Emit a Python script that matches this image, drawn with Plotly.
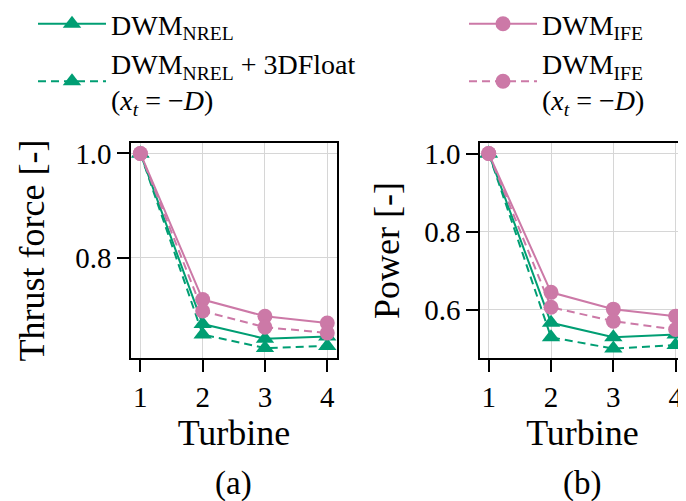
import plotly.graph_objects as go
from plotly.subplots import make_subplots

turbines = [1, 2, 3, 4]

thrust_nrel = [1.0, 0.673, 0.645, 0.649]
thrust_nrel_3dfloat = [1.0, 0.653, 0.627, 0.631]
thrust_ife = [1.0, 0.720, 0.688, 0.675]
thrust_ife_xt = [1.0, 0.698, 0.667, 0.656]

power_nrel = [1.0, 0.567, 0.530, 0.537]
power_nrel_3dfloat = [1.0, 0.530, 0.501, 0.510]
power_ife = [1.0, 0.645, 0.602, 0.584]
power_ife_xt = [1.0, 0.607, 0.571, 0.550]

GREEN = '#009E73'
PINK = '#CC79A7'
FONT = 'Liberation Serif'

names = {
	'nrel': 'DWM<sub>NREL</sub>',
	'nrel3d': 'DWM<sub>NREL</sub> + 3DFloat<br>(<i>x</i><sub><i>t</i></sub> = −<i>D</i>)',
	'ife': 'DWM<sub>IFE</sub>',
	'ifext': 'DWM<sub>IFE</sub><br>(<i>x</i><sub><i>t</i></sub> = −<i>D</i>)',
}

fig = make_subplots(rows=1, cols=2)

series = [
	# key, color, dash, symbol, which legend, thrust, power
	('nrel', GREEN, 'solid', 'triangle-up', 'legend', thrust_nrel, power_nrel),
	('nrel3d', GREEN, '8px,5px', 'triangle-up', 'legend', thrust_nrel_3dfloat, power_nrel_3dfloat),
	('ife', PINK, 'solid', 'circle', 'legend2', thrust_ife, power_ife),
	('ifext', PINK, '8px,5px', 'circle', 'legend2', thrust_ife_xt, power_ife_xt),
]

for key, color, dash, symbol, leg, thr, pwr in series:
	msize = 16 if symbol == 'triangle-up' else 15
	for col, vals in [(1, thr), (2, pwr)]:
		fig.add_trace(go.Scatter(
			x=turbines, y=vals, name=names[key],
			mode='lines+markers',
			line=dict(color=color, width=2, dash=dash),
			marker=dict(symbol=symbol, size=msize, color=color),
			showlegend=(col == 1), legend=leg,
		), row=1, col=col)

axis_common = dict(
	showline=True, linecolor='black', linewidth=1.5, mirror=True,
	ticks='outside', ticklen=12, tickwidth=1.5, tickcolor='black',
	showgrid=True, gridcolor='#d6d6d6', gridwidth=1,
	zeroline=False, tickfont=dict(size=29, color='black', family=FONT),
)

fig.update_xaxes(**axis_common, tickvals=turbines, automargin=False,
	title=dict(text='Turbine', font=dict(size=36, family=FONT, color='black'), standoff=6))
fig.update_xaxes(domain=[123 / 686, 329 / 686], range=[0.85, 4.156], row=1, col=1)
fig.update_xaxes(domain=[472 / 686, 677 / 686], range=[0.86, 4.15], row=1, col=2)

fig.update_yaxes(**axis_common, tickformat='.1f', dtick=0.2, automargin=False,
	domain=[151 / 501, 366 / 501])
fig.update_yaxes(range=[0.608, 1.02], row=1, col=1,
	title=dict(text='Thrust force [-]', font=dict(size=36, family=FONT, color='black'), standoff=20))
fig.update_yaxes(range=[0.477, 1.027], row=1, col=2,
	title=dict(text='Power [-]', font=dict(size=36, family=FONT, color='black'), standoff=14))

for lab, xc in [('(a)', 225 / 686), ('(b)', 574 / 686)]:
	fig.add_annotation(text=lab, x=xc, y=26 / 501, xref='paper', yref='paper',
		showarrow=False, xanchor='center', yanchor='middle',
		font=dict(size=33, family=FONT, color='black'))

legend_common = dict(
	orientation='v', y=1.018, yanchor='top', xanchor='left',
	font=dict(size=28, family=FONT, color='black'),
	itemwidth=68, bgcolor='rgba(0,0,0,0)',
	traceorder='normal', valign='middle', tracegroupgap=0,
)

fig.update_layout(
	width=686, height=501,
	margin=dict(l=0, r=0, t=0, b=0, autoexpand=False),
	paper_bgcolor='white', plot_bgcolor='white',
	font=dict(family=FONT, color='black'),
	legend=dict(**legend_common, x=25 / 686),
	legend2=dict(**legend_common, x=456 / 686),
)

fig.write_html('out.html')
